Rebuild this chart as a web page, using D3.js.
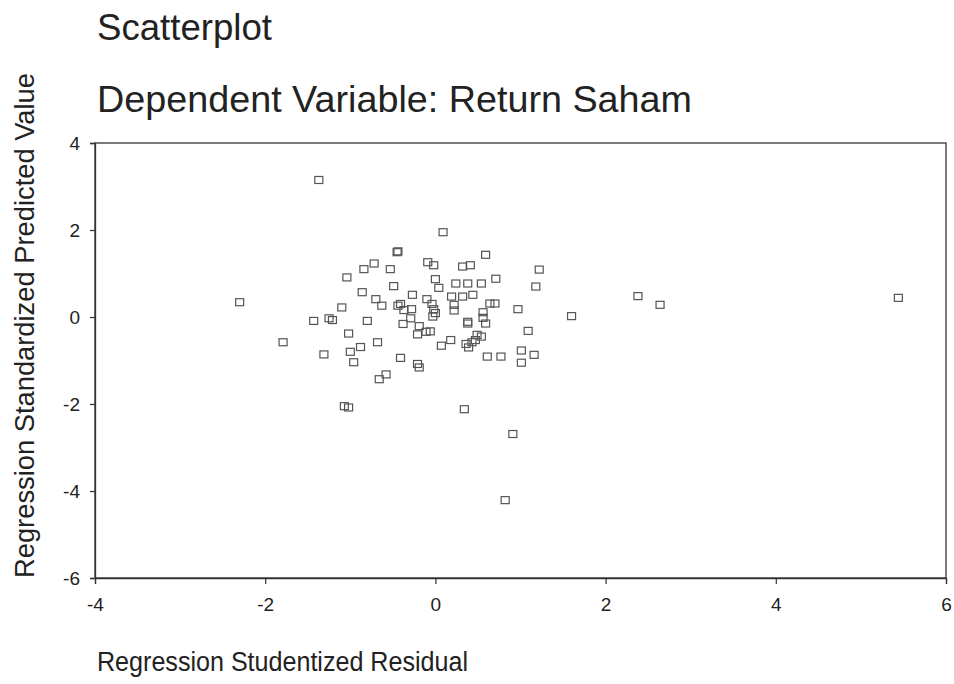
<!DOCTYPE html>
<html>
<head>
<meta charset="utf-8">
<script src="https://cdn.jsdelivr.net/npm/d3@7"></script>
<style>
  html, body { margin: 0; padding: 0; background: #fff; }
  svg { display: block; }
  text { font-family: "Liberation Sans", Arial, sans-serif; fill: #222; }
</style>
</head>
<body>
<svg id="chart" width="954" height="684"></svg>
<script>
const title1 = "Scatterplot";
const title2 = "Dependent Variable: Return Saham";
const xLabel = "Regression Studentized Residual";
const yLabel = "Regression Standardized Predicted Value";
const xTicks = [-4, -2, 0, 2, 4, 6];
const yTicks = [-6, -4, -2, 0, 2, 4];

// Regression Studentized Residual
const residual = [
  -1.37, 0.09, -2.30, 2.38, 2.64, 5.44, 1.60, -1.79, -1.07, -1.02,
  0.34, 0.91, 0.82, -0.45, -0.44, -0.72, -0.84, -0.53, -1.04, -0.86,
  -0.49, -0.27, -0.70, -0.63, -1.10, -0.44, -0.41, -0.37, -0.28, -1.43,
  -1.25, -1.21, -0.80, -0.38, -0.29, -0.19, -0.21, -1.02, -0.68, -0.88,
  -1.00, -1.31, -0.96, -0.41, -0.21, -0.19, -0.58, -0.66, 0.59, -0.09,
  -0.02, 0.32, 0.41, 1.22, 0.71, 0.00, 0.04, 0.24, 0.38, 0.54,
  1.18, -0.10, 0.19, 0.32, 0.44, -0.11, -0.06, -0.04, -0.02, 0.00,
  -0.03, 0.22, 0.22, 0.64, 0.70, 0.56, 0.56, 0.59, 0.97, 0.38,
  0.38, 1.09, 0.18, 0.07, 0.36, 0.39, 0.43, 0.49, 0.54, 0.47,
  0.61, 0.77, 1.01, 1.01, 1.16
];
// Regression Standardized Predicted Value
const predicted = [
  3.15, 1.95, 0.34, 0.48, 0.28, 0.44, 0.02, -0.58, -2.05, -2.08,
  -2.12, -2.69, -4.21, 1.49, 1.51, 1.23, 1.10, 1.10, 0.91, 0.57,
  0.71, 0.51, 0.41, 0.26, 0.22, 0.26, 0.30, 0.16, 0.18, -0.09,
  -0.03, -0.07, -0.09, -0.16, -0.03, -0.21, -0.40, -0.38, -0.58, -0.69,
  -0.80, -0.86, -1.04, -0.94, -1.08, -1.16, -1.32, -1.43, 1.43, 1.26,
  1.19, 1.16, 1.19, 1.09, 0.88, 0.87, 0.67, 0.77, 0.77, 0.77,
  0.70, 0.41, 0.47, 0.47, 0.51, -0.34, -0.33, 0.30, 0.18, 0.09,
  0.01, 0.28, 0.15, 0.31, 0.31, 0.11, -0.02, -0.15, 0.18, -0.11,
  -0.15, -0.32, -0.53, -0.66, -0.62, -0.70, -0.58, -0.41, -0.45, -0.53,
  -0.91, -0.91, -0.77, -1.05, -0.87
];

const W = 954, H = 684;
const margin = { top: 143, right: 8, bottom: 106, left: 95 };
const svg = d3.select("#chart");

const x = d3.scaleLinear().domain([-4, 6]).range([margin.left, W - margin.right]);
const y = d3.scaleLinear().domain([-6, 4]).range([H - margin.bottom, margin.top]);
const fmt = d => String(d);   // plain hyphen minus as in the reference

// plot frame
svg.append("rect")
  .attr("x", x(-4)).attr("y", y(4))
  .attr("width", x(6) - x(-4)).attr("height", y(-6) - y(4))
  .attr("fill", "none").attr("stroke", "#333").attr("stroke-width", 1.3);

const xAxis = svg.append("g")
  .attr("transform", `translate(0,${y(-6)})`)
  .call(d3.axisBottom(x).tickValues(xTicks).tickSize(6).tickPadding(14).tickFormat(fmt));
const yAxis = svg.append("g")
  .attr("transform", `translate(${x(-4)},0)`)
  .call(d3.axisLeft(y).tickValues(yTicks).tickSize(5).tickPadding(10).tickFormat(fmt));

[xAxis, yAxis].forEach(g => {
  g.select(".domain").attr("stroke", "#333").attr("stroke-width", 1.3);
  g.selectAll(".tick line").attr("stroke", "#333").attr("stroke-width", 1.2);
  g.selectAll(".tick text")
    .style("font-family", '"Liberation Sans", Arial, sans-serif')
    .style("font-size", "19px").attr("fill", "#222");
});

// points
const pts = residual.map((r, i) => ({ r, p: predicted[i] }));
const sw = 8, sh = 7;
svg.append("g").selectAll("rect").data(pts).join("rect")
  .attr("x", d => x(d.r) - sw / 2)
  .attr("y", d => y(d.p) - sh / 2)
  .attr("width", sw).attr("height", sh)
  .attr("fill", "none").attr("stroke", "#555").attr("stroke-width", 1.2);

// titles
svg.append("text").attr("x", 97).attr("y", 40)
  .attr("textLength", 175).attr("lengthAdjust", "spacingAndGlyphs")
  .style("font-size", "36px").text(title1);
svg.append("text").attr("x", 97).attr("y", 112)
  .attr("textLength", 595).attr("lengthAdjust", "spacingAndGlyphs")
  .style("font-size", "36px").text(title2);

// axis labels
svg.append("text").attr("x", 97).attr("y", 671)
  .attr("textLength", 371).attr("lengthAdjust", "spacingAndGlyphs")
  .style("font-size", "27px").text(xLabel);
svg.append("text")
  .attr("transform", `translate(34,${(578 + 73) / 2}) rotate(-90)`)
  .attr("text-anchor", "middle")
  .attr("textLength", 505).attr("lengthAdjust", "spacingAndGlyphs")
  .style("font-size", "27px").text(yLabel);
</script>
</body>
</html>
